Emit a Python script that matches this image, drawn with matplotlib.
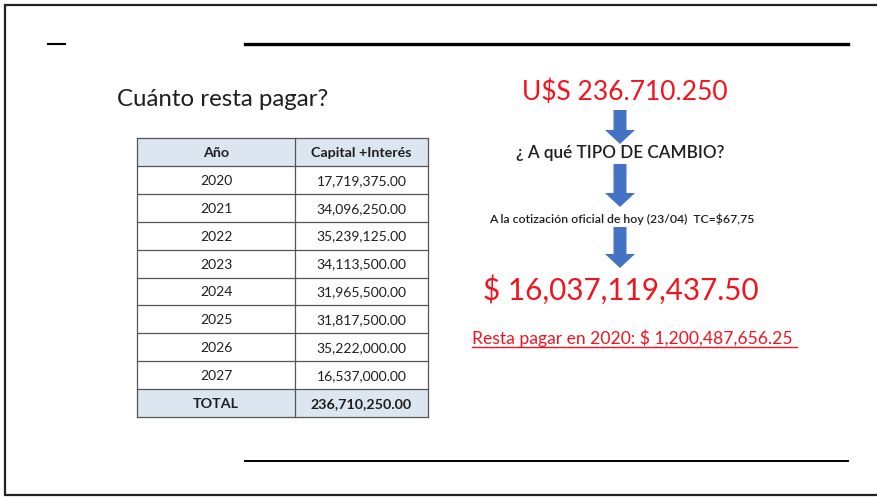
import matplotlib.pyplot as plt
from matplotlib.patches import FancyArrow, Rectangle

# Slide data
years = ["2020", "2021", "2022", "2023", "2024", "2025", "2026", "2027"]
amounts = [17719375.00, 34096250.00, 35239125.00, 34113500.00,
           31965500.00, 31817500.00, 35222000.00, 16537000.00]
header = ["Año", "Capital +Interés"]
exchange_rate = 67.75
rate_date = "23/04"

total = sum(amounts)
total_pesos = total * exchange_rate
first_year_pesos = amounts[0] * exchange_rate

plt.rcParams["font.family"] = ["Lato", "DejaVu Sans"]
RED = "#f0141e"
TXT = "#1e1e1e"
BLUE = "#4472c4"
HEAD_BG = "#dce6f1"

fig = plt.figure(figsize=(8.77, 4.97), dpi=100)
ax = fig.add_axes([0, 0, 1, 1])
ax.set_xlim(0, 877)
ax.set_ylim(497, 0)
ax.axis("off")

# slide frame
ax.plot([877, 4.5, 4.5, 877], [5, 5, 495, 495], color="#222222", lw=1.6,
        solid_joinstyle="miter")

# rules
ax.plot([48, 65], [44, 44], color="black", lw=1.5)
ax.plot([245, 848], [44, 44], color="black", lw=2.4)
ax.plot([245, 848], [461, 461], color="black", lw=1.4)

# title
ax.text(117, 100, "Cuánto resta pagar?", fontsize=17.3, color=TXT,
        ha="left", va="center")

# table
x0, x1, x2 = 137, 295, 428
top, rh = 138, 27.9
rows = [header] + [[y, f"{a:,.2f}"] for y, a in zip(years, amounts)] + \
       [["TOTAL", f"{total:,.2f}"]]
n = len(rows)
for i, (c1, c2) in enumerate(rows):
    yt = top + i * rh
    bold = i == 0 or i == n - 1
    if bold:
        ax.add_patch(Rectangle((x0, yt), x2 - x0, rh, facecolor=HEAD_BG,
                               edgecolor="none", zorder=1))
    w = "bold" if bold else "normal"
    fs = 10.3 if bold else 10
    ax.text((x0 + x1) / 2, yt + rh / 2 + 1, c1, ha="center", va="center",
            fontsize=fs, color=TXT, fontweight=w, zorder=3)
    ax.text((x1 + x2) / 2, yt + rh / 2 + 1, c2, ha="center", va="center",
            fontsize=fs, color=TXT, fontweight=w, zorder=3)
for i in range(n + 1):
    yt = top + i * rh
    ax.plot([x0, x2], [yt, yt], color="#555555", lw=0.9, zorder=2)
for xx in (x0, x1, x2):
    ax.plot([xx, xx], [top, top + n * rh], color="#555555", lw=0.9, zorder=2)

# right column
cx = 620
ax.text(625, 92, "U$S " + f"{total:,.0f}".replace(",", "."), fontsize=19,
        color=RED, ha="center", va="center")
ax.text(cx, 153, "¿ A qué TIPO DE CAMBIO?", fontsize=12.3, color=TXT,
        fontweight="semibold", ha="center", va="center")
ax.text(622, 219,
        f"A la cotización oficial de hoy ({rate_date})  TC=${exchange_rate:.2f}".replace(".", ","),
        fontsize=8.8, color=TXT, fontweight="semibold", ha="center", va="center")
ax.text(621, 290, f"$ {total_pesos:,.2f}", fontsize=21.3, color=RED,
        ha="center", va="center")
resta = ax.text(472, 338, f"Resta pagar en 2020: $ {first_year_pesos:,.2f} ",
                fontsize=12.6, color=RED, ha="left", va="center")

for ytop, ybot in [(110, 144), (164, 207), (227, 268)]:
    ax.add_patch(FancyArrow(cx, ytop, 0, ybot - ytop, width=13,
                            head_width=30, head_length=14,
                            length_includes_head=True, color=BLUE,
                            linewidth=0))

# underline for the red note
fig.canvas.draw()
bb = resta.get_window_extent().transformed(ax.transData.inverted())
ax.plot([bb.x0, bb.x1], [347, 347], color=RED, lw=1.0)

fig.savefig("out.png", dpi=100)
